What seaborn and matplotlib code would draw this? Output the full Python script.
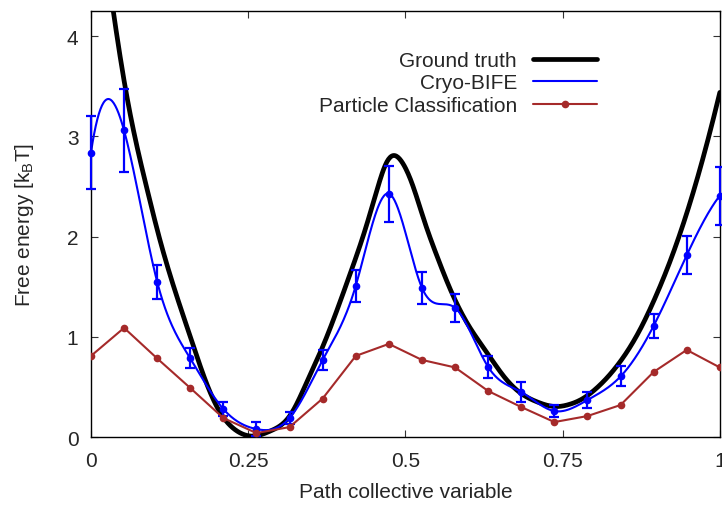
import numpy as np
import pandas as pd
import seaborn as sns
import matplotlib
matplotlib.use('Agg')
import matplotlib.pyplot as plt

# path collective variable grid (20 images)
cv = np.linspace(0, 1, 20)

# Cryo-BIFE estimate and its error
bife = [2.84, 3.06, 1.55, 0.785, 0.28, 0.08, 0.19, 0.77, 1.51, 2.43,
        1.49, 1.29, 0.70, 0.45, 0.26, 0.37, 0.605, 1.11, 1.815, 2.41]
bife_err = [0.36, 0.41, 0.17, 0.10, 0.07, 0.07, 0.06, 0.10, 0.16, 0.28,
            0.16, 0.14, 0.11, 0.10, 0.06, 0.08, 0.10, 0.12, 0.19, 0.29]

# particle classification
pclass = [0.81, 1.09, 0.785, 0.49, 0.19, 0.04, 0.10, 0.385, 0.81, 0.93,
          0.77, 0.695, 0.46, 0.30, 0.15, 0.21, 0.32, 0.65, 0.87, 0.695]

# ground truth
gt_x = [0.000, 0.0355, 0.0545, 0.0707, 0.0886, 0.1087, 0.158, 0.188, 0.205, 0.230,
        0.258, 0.285, 0.317, 0.343, 0.367, 0.411, 0.436, 0.455, 0.470, 0.481,
        0.494, 0.510, 0.531, 0.550, 0.571, 0.598, 0.630, 0.656, 0.683, 0.710,
        0.738, 0.760, 0.778, 0.806, 0.840, 0.872, 0.895, 0.920, 0.935, 0.958,
        0.982, 1.000]
gt_y = [5.85, 4.25, 3.49, 2.97, 2.49, 1.99, 1.00, 0.47, 0.25, 0.07,
        0.01, 0.06, 0.22, 0.545, 0.88, 1.61, 2.07, 2.47, 2.74, 2.81,
        2.75, 2.54, 2.14, 1.81, 1.48, 1.14, 0.84, 0.61, 0.44, 0.35,
        0.305, 0.325, 0.37, 0.50, 0.74, 1.06, 1.36, 1.74, 2.00, 2.45,
        2.99, 3.44]


def csplines(x, y, n=800):
    # cubic spline with not-a-knot ends
    x = np.asarray(x, float)
    y = np.asarray(y, float)
    h = np.diff(x)
    m = len(x)
    A = np.zeros((m, m))
    b = np.zeros(m)
    A[0, 0:3] = [h[1], -(h[0] + h[1]), h[0]]
    A[-1, -3:] = [h[-1], -(h[-2] + h[-1]), h[-2]]
    for i in range(1, m - 1):
        A[i, i - 1] = h[i - 1]
        A[i, i] = 2 * (h[i - 1] + h[i])
        A[i, i + 1] = h[i]
        b[i] = 6 * ((y[i + 1] - y[i]) / h[i] - (y[i] - y[i - 1]) / h[i - 1])
    M = np.linalg.solve(A, b)
    xs = np.linspace(x[0], x[-1], n)
    k = np.clip(np.searchsorted(x, xs) - 1, 0, m - 2)
    t = xs - x[k]
    hk = h[k]
    ys = (M[k] * (x[k + 1] - xs) ** 3 / (6 * hk) + M[k + 1] * t ** 3 / (6 * hk)
          + (y[k] / hk - M[k] * hk / 6) * (x[k + 1] - xs)
          + (y[k + 1] / hk - M[k + 1] * hk / 6) * t)
    return xs, ys


sns.set_style('ticks')
plt.rcParams['font.family'] = ['Liberation Sans', 'DejaVu Sans']
plt.rcParams['font.size'] = 15

fig = plt.figure(figsize=(7.22, 5.10), dpi=100)
ax = fig.add_axes([0.126, 0.141, 0.871, 0.835])

gx, gy = csplines(gt_x, gt_y)
bx, by = csplines(cv, bife)
truth = pd.DataFrame({'x': gx, 'y': gy})
smooth = pd.DataFrame({'x': bx, 'y': by})
pc = pd.DataFrame({'x': cv, 'y': pclass})

sns.lineplot(data=truth, x='x', y='y', ax=ax, color='black', lw=3.4,
             sort=False, estimator=None, label='Ground truth')
sns.lineplot(data=smooth, x='x', y='y', ax=ax, color='#0000ff', lw=1.5,
             sort=False, estimator=None, label='Cryo-BIFE')
ax.errorbar(cv, bife, yerr=bife_err, fmt='o', color='#0000ff', ms=4.5,
            elinewidth=1.6, capsize=3.5, capthick=1.6, clip_on=False, zorder=3)
sns.lineplot(data=pc, x='x', y='y', ax=ax, color='#a52a2a', lw=1.5,
             marker='o', markersize=5.5, markeredgewidth=0, sort=False,
             estimator=None, label='Particle Classification', zorder=4)

ax.set_xlim(0, 1)
ax.set_ylim(0, 4.25)
ax.set_xticks([0, 0.25, 0.5, 0.75, 1])
ax.set_xticklabels(['0', '0.25', '0.5', '0.75', '1'])
ax.set_yticks([0, 1, 2, 3, 4])
ax.tick_params(direction='in', length=5, width=0.8, top=True, right=True,
               labelsize=15, color='#333333')
ax.tick_params(axis='x', pad=10)
ax.tick_params(axis='y', pad=9)
for s in ax.spines.values():
    s.set_linewidth(1.0)
    s.set_color('black')

ax.set_xlabel('Path collective variable', fontsize=15, labelpad=9)
ax.set_ylabel('Free energy [k$_\\mathregular{B}$T]', fontsize=15, labelpad=22)

ax.legend(loc='upper right', bbox_to_anchor=(0.805, 0.907), frameon=False,
          markerfirst=False, handlelength=3.1, handletextpad=0.75,
          labelspacing=0.17, borderpad=0, borderaxespad=0, fontsize=15)

fig.savefig('out.png', dpi=100)
